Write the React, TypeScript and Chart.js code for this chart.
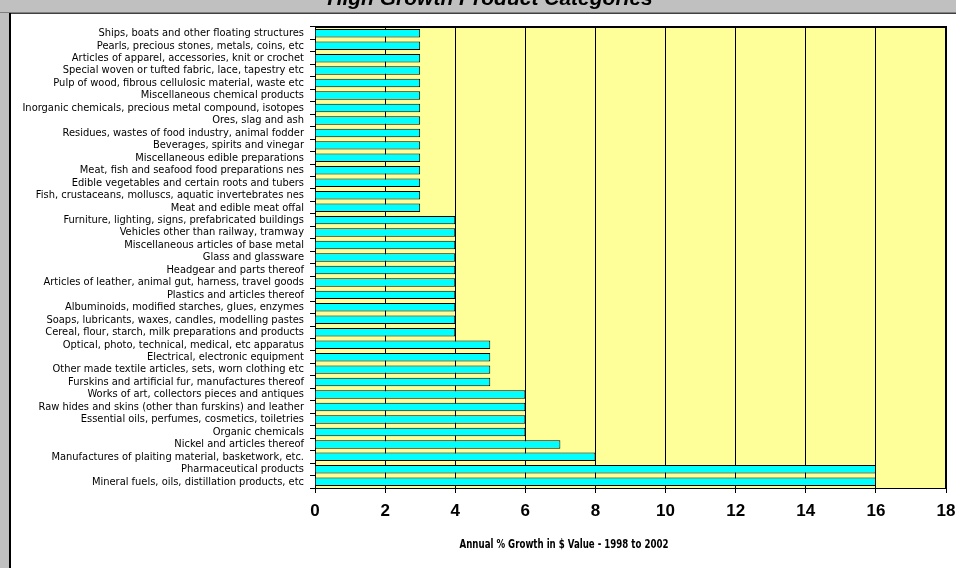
import React, { useEffect, useRef } from 'react';
import { Chart, registerables } from 'chart.js';

Chart.register(...registerables);

const categories: string[] = [
  'Ships, boats and other floating structures',
  'Pearls, precious stones, metals, coins, etc',
  'Articles of apparel, accessories, knit or crochet',
  'Special woven or tufted fabric, lace, tapestry etc',
  'Pulp of wood, fibrous cellulosic material, waste etc',
  'Miscellaneous chemical products',
  'Inorganic chemicals, precious metal compound, isotopes',
  'Ores, slag and ash',
  'Residues, wastes of food industry, animal fodder',
  'Beverages, spirits and vinegar',
  'Miscellaneous edible preparations',
  'Meat, fish and seafood food preparations nes',
  'Edible vegetables and certain roots and tubers',
  'Fish, crustaceans, molluscs, aquatic invertebrates nes',
  'Meat and edible meat offal',
  'Furniture, lighting, signs, prefabricated buildings',
  'Vehicles other than railway, tramway',
  'Miscellaneous articles of base metal',
  'Glass and glassware',
  'Headgear and parts thereof',
  'Articles of leather, animal gut, harness, travel goods',
  'Plastics and articles thereof',
  'Albuminoids, modified starches, glues, enzymes',
  'Soaps, lubricants, waxes, candles, modelling pastes',
  'Cereal, flour, starch, milk preparations and products',
  'Optical, photo, technical, medical, etc apparatus',
  'Electrical, electronic equipment',
  'Other made textile articles, sets, worn clothing etc',
  'Furskins and artificial fur, manufactures thereof',
  'Works of art, collectors pieces and antiques',
  'Raw hides and skins (other than furskins) and leather',
  'Essential oils, perfumes, cosmetics, toiletries',
  'Organic chemicals',
  'Nickel and articles thereof',
  'Manufactures of plaiting material, basketwork, etc.',
  'Pharmaceutical products',
  'Mineral fuels, oils, distillation products, etc',
];

const growth: number[] = [
  3, 3, 3, 3, 3, 3, 3, 3, 3, 3, 3, 3, 3, 3, 3,
  4, 4, 4, 4, 4, 4, 4, 4, 4, 4,
  5, 5, 5, 5,
  6, 6, 6, 6,
  7, 8, 16, 16,
];

const xMin = 0;
const xMax = 18;
const xStep = 2;

const chartTitle = 'High Growth Product Categories';
const xAxisTitle = 'Annual % Growth in $ Value - 1998 to 2002';

const NARROW = '"Liberation Sans Narrow", "Arial Narrow", "DejaVu Sans Condensed", sans-serif';
const SANS = '"Liberation Sans", Arial, sans-serif';

export default function App() {
  const ref = useRef<HTMLCanvasElement>(null);

  useEffect(() => {
    const canvas = ref.current;
    if (!canvas) return;

    const framePlugin = {
      id: 'frame',
      beforeDraw(chart: any) {
        const { ctx, chartArea } = chart;
        const W = chart.width;
        const H = chart.height;
        ctx.save();
        ctx.fillStyle = '#c0c0c0';
        ctx.fillRect(0, 0, W, H);
        ctx.fillStyle = '#ffffff';
        ctx.fillRect(10, 14, W - 10, H - 14);
        ctx.fillStyle = '#808080';
        ctx.fillRect(0, 12, W, 1);
        ctx.fillStyle = '#404040';
        ctx.fillRect(9, 13, W - 9, 1);
        ctx.fillStyle = '#000000';
        ctx.fillRect(9, 13, 2, H - 13);
        // title
        ctx.fillStyle = '#000000';
        ctx.font = `italic bold 21px ${SANS}`;
        ctx.textAlign = 'center';
        ctx.textBaseline = 'alphabetic';
        ctx.fillText(chartTitle, 490, 5);
        // plot background
        ctx.fillStyle = '#ffff99';
        ctx.fillRect(chartArea.left, chartArea.top, chartArea.right - chartArea.left, chartArea.bottom - chartArea.top);
        ctx.restore();
      },
      afterDraw(chart: any) {
        const { ctx, chartArea } = chart;
        ctx.save();
        ctx.strokeStyle = '#000000';
        ctx.lineWidth = 2;
        ctx.beginPath();
        ctx.moveTo(chartArea.left, chartArea.top);
        ctx.lineTo(chartArea.right, chartArea.top);
        ctx.lineTo(chartArea.right, chartArea.bottom);
        ctx.stroke();
        ctx.fillStyle = '#000000';
        ctx.font = `bold 12px ${NARROW}`;
        ctx.textAlign = 'center';
        ctx.textBaseline = 'middle';
        ctx.translate(564, 545);
        ctx.scale(0.8, 1);
        ctx.fillText(xAxisTitle, 0, 0);
        ctx.restore();
      },
    };

    const chart = new Chart(canvas, {
      type: 'bar',
      data: {
        labels: categories,
        datasets: [
          {
            data: growth,
            backgroundColor: '#00ffff',
            borderColor: '#000000',
            borderWidth: 1,
            barPercentage: 0.68,
            categoryPercentage: 1,
          },
        ],
      },
      options: {
        indexAxis: 'y',
        responsive: false,
        animation: false,
        events: [],
        layout: { padding: { left: 0, right: 10, top: 27, bottom: 0 } },
        plugins: {
          legend: { display: false },
          tooltip: { enabled: false },
          title: { display: false },
        },
        scales: {
          x: {
            type: 'linear',
            min: xMin,
            max: xMax,
            ticks: {
              stepSize: xStep,
              color: '#000000',
              font: { family: SANS, size: 17, weight: 'bold' },
              padding: 8,
            },
            grid: {
              color: '#000000',
              lineWidth: 1,
              tickLength: 5,
              drawTicks: true,
            },
            border: { color: '#000000', width: 1 },
            afterFit(scale: any) {
              scale.height = 80;
              scale.paddingLeft = 0;
              scale.paddingRight = 0;
            },
          },
          y: {
            type: 'category',
            ticks: {
              autoSkip: false,
              color: '#000000',
              font: { family: NARROW, size: 11 },
              padding: 6,
            },
            grid: {
              display: true,
              drawOnChartArea: false,
              drawTicks: true,
              tickLength: 5,
              color: '#000000',
              offset: true,
            },
            border: { color: '#000000', width: 1 },
            afterFit(scale: any) {
              scale.width = 315;
              scale.paddingTop = 0;
              scale.paddingBottom = 0;
            },
          },
        },
      },
      plugins: [framePlugin],
    });

    return () => chart.destroy();
  }, []);

  return (
    <div style={{ position: 'fixed', left: 0, top: 0, width: 956, height: 568, overflow: 'hidden', background: '#c0c0c0' }}>
      <canvas ref={ref} width={956} height={568} style={{ display: 'block', width: 956, height: 568 }} />
    </div>
  );
}
